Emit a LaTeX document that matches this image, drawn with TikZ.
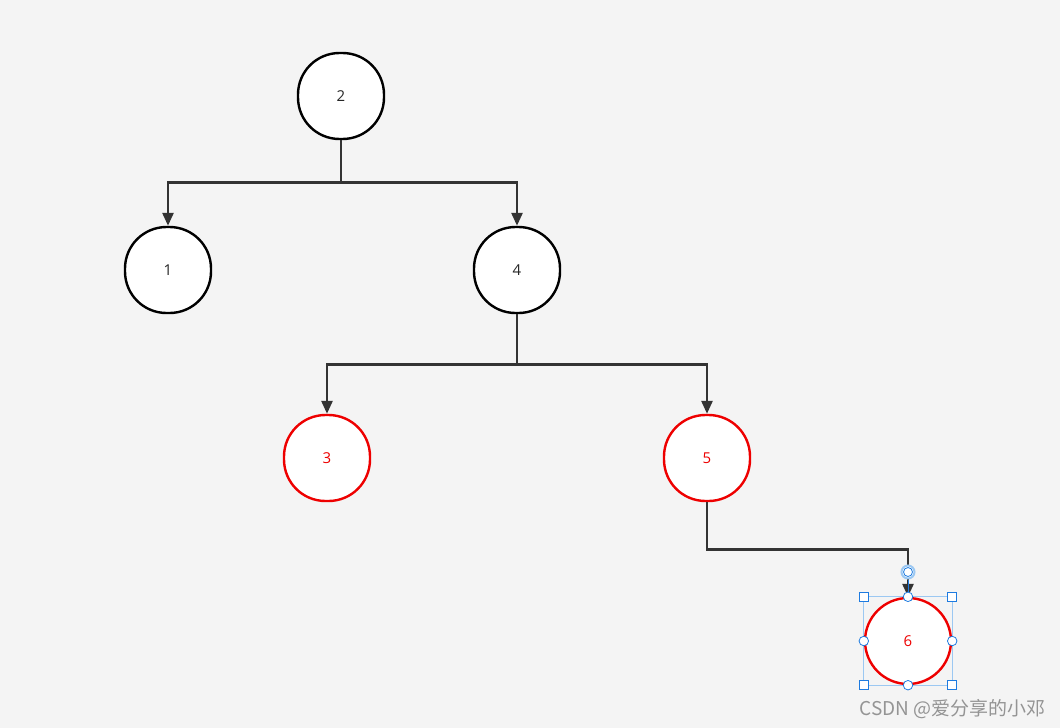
\documentclass[tikz,border=0pt]{standalone}
\usepackage{fontspec}
\setmainfont{Open Sans}
\newfontfamily\cjk{Noto Sans CJK SC}
\usetikzlibrary{arrows.meta}
\definecolor{bg}{HTML}{F4F4F4}
\definecolor{lnk}{HTML}{333333}
\definecolor{rd}{HTML}{EE0000}
\definecolor{sel}{HTML}{1E7BE0}
\definecolor{selbox}{HTML}{9CC8F2}
\begin{document}
\begin{tikzpicture}[x=1pt,y=-1pt,
  tnode/.style={draw=black,fill=white,line width=2.4pt,minimum width=86pt,minimum height=86pt,rounded corners=41.5pt,font=\fontsize{15pt}{17pt}\selectfont,text=black!85,inner sep=0pt},
  rnode/.style={tnode,draw=rd,text=rd},
  conn/.style={draw=lnk,line width=2.6pt,-{Triangle[length=13pt,width=11pt]}},
  hsq/.style={draw=sel,fill=white,line width=0.8pt,minimum size=9pt,inner sep=0pt},
  hci/.style={draw=sel,fill=white,line width=0.8pt,circle,minimum size=9.5pt,inner sep=0pt}]
\fill[bg] (0,0) rectangle (1060,728);
\useasboundingbox (0,0) rectangle (1060,728);
\node[tnode] (n2) at (341,96) {2};
\node[tnode] (n1) at (168,270) {1};
\node[tnode] (n4) at (517,270) {4};
\node[rnode] (n3) at (327,458) {3};
\node[rnode] (n5) at (707,458) {5};
\node[rnode,rounded corners=43pt] (n6) at (908,641) {6};
\draw[conn] (n2.south) -- ++(0,42) -| (n1.north);
\draw[conn] (n2.south) -- ++(0,42) -| (n4.north);
\draw[conn] (n4.south) -- ++(0,50) -| (n3.north);
\draw[conn] (n4.south) -- ++(0,50) -| (n5.north);
\draw[conn] (n5.south) -- ++(0,47) -| (n6.north);
% selection decorations
\draw[selbox,line width=1pt] (n6.north west) rectangle (n6.south east);
\node[circle,draw=selbox,line width=2pt,fill=white,minimum size=13pt,inner sep=0pt] (hdl) at (908,572) {};
\draw[sel,line width=1pt] (n6.north) -- (hdl.south);
\node[circle,draw=sel,line width=0.8pt,fill=white,minimum size=9pt,inner sep=0pt] at (hdl) {};
\foreach \a in {north west,north east,south west,south east} \node[hsq] at (n6.\a) {};
\foreach \a in {north,south,east,west} \node[hci] at (n6.\a) {};
\node[anchor=east,text=black!42,font=\cjk\fontsize{19pt}{21pt}\selectfont,inner sep=0pt] (wm) at (1046,709) {CSDN @爱分享的小邓};
\end{tikzpicture}
\end{document}
